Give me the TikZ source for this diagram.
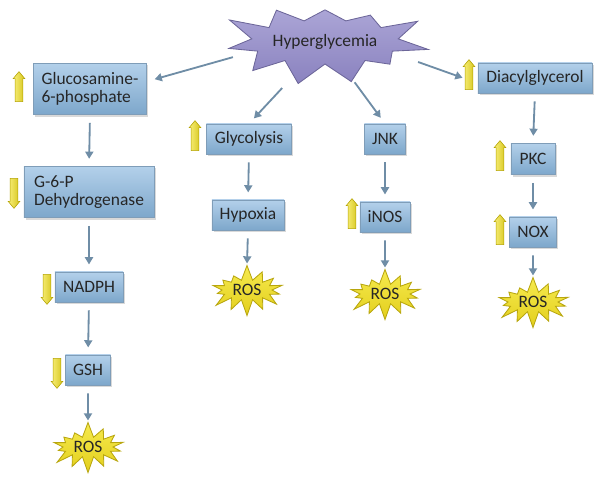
\documentclass[tikz,border=0pt]{standalone}
\usepackage{fontspec}
\setmainfont{Carlito}
\usetikzlibrary{shapes.symbols,shapes.arrows,arrows.meta,shadows}
\definecolor{boxtop}{HTML}{B3D0EA}
\definecolor{boxbot}{HTML}{7DA7CB}
\definecolor{boxline}{HTML}{7F9DB8}
\definecolor{linkcol}{HTML}{6F8DA6}
\definecolor{hyptop}{HTML}{ABA5D6}
\definecolor{hypbot}{HTML}{8A82BF}
\definecolor{hypline}{HTML}{6C6699}
\definecolor{rostop}{HTML}{F6EA4E}
\definecolor{rosbot}{HTML}{E3CF1C}
\definecolor{rosline}{HTML}{B8A60E}
\definecolor{upleft}{HTML}{F8F07A}
\definecolor{upright}{HTML}{D6C41C}
\definecolor{upline}{HTML}{B3A200}

\begin{document}
\begin{tikzpicture}[x=0.025cm,y=-0.025cm]
\tikzstyle{every node}+=[font=\fontsize{12.4}{13}\selectfont, text=black!85]
\tikzstyle{box}=[draw=boxline, line width=0.5pt, top color=boxtop, bottom color=boxbot, inner sep=0pt, minimum height=0.75cm, align=left, drop shadow={opacity=0.3, shadow xshift=0.04cm, shadow yshift=-0.05cm}]
\tikzstyle{burst}=[starburst, inner sep=0pt, line width=0.6pt]
\tikzstyle{ros}=[burst, starburst points=14, starburst point height=0.4cm, random starburst=7, minimum width=2.05cm, minimum height=1.3cm, draw=rosline, top color=rostop, bottom color=rosbot]
\tikzstyle{updown}=[single arrow, draw=upline, line width=0.4pt, left color=upleft, right color=upright, inner sep=0.09cm, minimum height=0.75cm, minimum width=0.29cm, single arrow head extend=0.05cm, single arrow tip angle=80]
\tikzstyle{up}=[updown, shape border rotate=90]
\tikzstyle{down}=[updown, shape border rotate=270]
\tikzstyle{link}=[draw=linkcol, line width=1.3pt, -{Triangle[length=0.18cm,width=0.2cm]}, shorten <=0.2cm, shorten >=0.18cm]
\useasboundingbox (0,0) rectangle (601,480);
\node [burst, starburst points=11, starburst point height=0.8cm, random starburst=3, minimum width=3.6cm, minimum height=2.7cm, draw=hypline, top color=hyptop, bottom color=hypbot] (hyper) at (325,42) {Hyperglycemia};
\node [box, minimum width=2.83cm, minimum height=1.28cm] (glu) at (90,89) {Glucosamine-\\6-phosphate};
\node [box, minimum width=3.25cm, minimum height=1.28cm] (g6p) at (89,192) {G-6-P\\Dehydrogenase};
\node [box, minimum width=1.7cm] (nadph) at (89,287) {NADPH};
\node [box, minimum width=1.13cm] (gsh) at (88,370) {GSH};
\node [box, minimum width=2.13cm] (gly) at (249,139) {Glycolysis};
\node [box, minimum width=1.8cm] (hyp) at (248,215) {Hypoxia};
\node [box, minimum width=1.03cm] (jnk) at (385,139) {JNK};
\node [box, minimum width=1.25cm] (inos) at (385,217) {iNOS};
\node [box, minimum width=2.85cm] (dag) at (535,78) {Diacylglycerol};
\node [box, minimum width=1.1cm, minimum height=0.78cm] (pkc) at (533,159) {PKC};
\node [box, minimum width=1.18cm] (nox) at (533,232) {NOX};
\node [ros] (ros1) at (88,447) {ROS};
\node [ros] (ros2) at (247,290) {ROS};
\node [ros] (ros3) at (385,294) {ROS};
\node [ros] (ros4) at (533,302) {ROS};
\node [up] (glu-up) at (19,89) {};
\node [down] (g6p-dn) at (14,191) {};
\node [down] (nadph-dn) at (47,287) {};
\node [down] (gsh-dn) at (57,371) {};
\node [up] (gly-up) at (195,138) {};
\node [up] (inos-up) at (352,216) {};
\node [up] (dag-up) at (469,77) {};
\node [up] (pkc-up) at (500,158) {};
\node [up] (nox-up) at (500,232) {};
\draw [link, shorten <=2.39cm, shorten >=0.2cm] ([yshift=0.27cm]hyper.center) -- ([yshift=0.19cm]glu.east);
\draw [link, shorten <=1.57cm] (hyper.center) -- (gly.north);
\draw [link, shorten <=1.25cm] (hyper.center) -- (jnk.north);
\draw [link, shorten <=2.47cm, shorten >=0.4cm] ([yshift=0.33cm]hyper.center) -- ([yshift=-0.13cm]dag.west);
\draw [link] (glu.south) -- (g6p.north);
\draw [link] (g6p.south) -- (nadph.north);
\draw [link] (nadph.south) -- (gsh.north);
\draw [link, shorten >=0.02cm] (gsh.south) -- (ros1.north);
\draw [link] (gly.south) -- (hyp.north);
\draw [link, shorten >=0.02cm] (hyp.south) -- (ros2.north);
\draw [link] (jnk.south) -- (inos.north);
\draw [link, shorten >=0.02cm] (inos.south) -- (ros3.north);
\draw [link] (dag.south) -- (pkc.north);
\draw [link] (pkc.south) -- (nox.north);
\draw [link, shorten >=0.02cm] (nox.south) -- (ros4.north);
\end{tikzpicture}
\end{document}
